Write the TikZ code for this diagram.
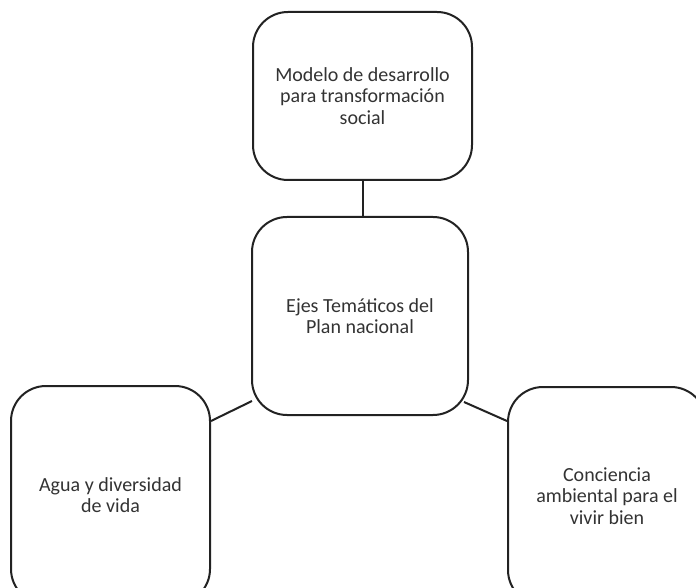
\documentclass[tikz,border=0pt]{standalone}
\usepackage{fontspec}
\setmainfont{Carlito}
\usetikzlibrary{calc}
\definecolor{linec}{HTML}{222222}
\definecolor{textc}{HTML}{333333}
\tikzset{
  topicbox/.style={draw=linec, line width=2pt, rounded corners=35pt, align=center,
    text=textc, font=\fontsize{20}{21.5}\selectfont, inner sep=0pt},
  conn/.style={draw=linec, line width=2pt}
}
\begin{document}
\begin{tikzpicture}[x=1pt,y=1pt]
\useasboundingbox (0,0) rectangle (696,587);
\clip (0,0) rectangle (696,587);
\fill[white] (0,0) rectangle (696,587);
\node[topicbox, minimum width=219pt, minimum height=168pt] (top) at (362.5,491) {Modelo de desarrollo\\para transformación\\social};
\node[topicbox, minimum width=216pt, minimum height=198pt] (ctr) at (360,271) {Ejes Temáticos del\\Plan nacional};
\node[topicbox, minimum width=199pt, minimum height=218pt] (lft) at (110.5,92) {Agua y diversidad\\de vida};
\node[topicbox, minimum width=198pt, minimum height=218pt] (rgt) at (607,91) {Conciencia\\ambiental para el\\vivir bien};
\coordinate (cl) at ($(ctr.south west)+(1pt,15pt)$);
\coordinate (cr) at ($(ctr.south east)+(-5pt,14pt)$);
\coordinate (la) at ($(lft.north east)+(0pt,-36pt)$);
\coordinate (ra) at ($(rgt.north west)+(0pt,-35pt)$);
\draw[conn] (top.south) -- (top.south |- ctr.north);
\draw[conn] (cl) -- (la);
\draw[conn] (cr) -- (ra);
\end{tikzpicture}
\end{document}
